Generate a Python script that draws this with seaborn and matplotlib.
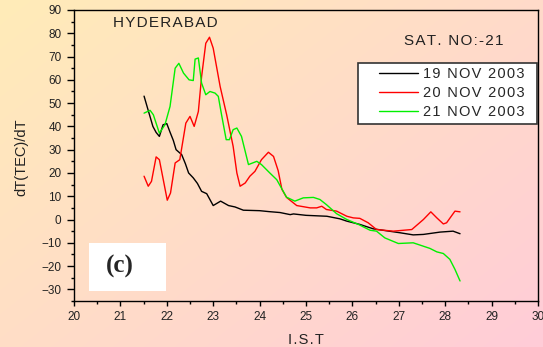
import numpy as np
import pandas as pd
import matplotlib
matplotlib.use("Agg")
import matplotlib.pyplot as plt
from matplotlib.ticker import MultipleLocator
from matplotlib.patches import Rectangle
from matplotlib.legend_handler import HandlerLine2D
import seaborn as sns

# Rate of change of TEC versus Indian Standard Time, three nights
ist_19 = [21.51, 21.70, 21.77, 21.84, 21.92, 22.00, 22.07, 22.14, 22.20, 22.32,
          22.40, 22.47, 22.57, 22.66, 22.75, 22.86, 23.00, 23.16, 23.33, 23.47,
          23.65, 24.00, 24.20, 24.44, 24.66, 24.73, 25.00, 25.45, 25.73, 25.88,
          26.16, 26.45, 27.03, 27.31, 27.53, 27.89, 28.17, 28.32]
dtec_19 = [53.0, 40.0, 37.4, 35.7, 40.7, 41.2, 37.5, 34.0, 30.0, 27.9,
           24.0, 20.0, 17.9, 15.5, 12.1, 11.1, 6.0, 7.9, 6.0, 5.4,
           4.0, 3.8, 3.4, 3.0, 2.1, 2.4, 1.8, 1.4, 0.3, -0.7,
           -2.1, -4.0, -5.7, -6.6, -6.4, -5.4, -5.0, -6.1]

ist_20 = [21.51, 21.60, 21.67, 21.77, 21.84, 22.01, 22.08, 22.18, 22.28, 22.41,
          22.50, 22.59, 22.68, 22.75, 22.84, 22.92, 23.00, 23.15, 23.29, 23.43,
          23.51, 23.58, 23.69, 23.79, 23.90, 24.04, 24.19, 24.30, 24.40, 24.48,
          24.58, 24.80, 25.09, 25.23, 25.34, 25.44, 25.66, 25.88, 26.02, 26.16,
          26.34, 26.52, 26.88, 27.28, 27.53, 27.69, 27.82, 27.96, 28.03, 28.21,
          28.32]
dtec_20 = [18.6, 14.3, 16.4, 26.9, 25.7, 8.3, 11.4, 24.3, 25.7, 41.4,
           44.3, 40.0, 46.4, 61.4, 75.7, 78.3, 73.6, 57.1, 45.0, 31.4,
           20.0, 14.3, 15.7, 18.6, 20.7, 25.7, 28.9, 27.1, 21.0, 13.0,
           9.5, 6.0, 5.0, 5.0, 5.7, 4.3, 3.6, 1.4, 0.7, 0.5,
           -1.4, -4.3, -5.0, -4.3, 0.0, 3.3, 0.7, -1.9, -1.4, 3.6,
           3.3]

ist_21 = [21.51, 21.64, 21.71, 21.84, 21.96, 22.07, 22.18, 22.26, 22.36, 22.48,
          22.57, 22.61, 22.68, 22.75, 22.84, 22.93, 23.04, 23.11, 23.18, 23.28,
          23.35, 23.43, 23.51, 23.61, 23.76, 23.94, 24.04, 24.22, 24.37, 24.58,
          24.76, 24.94, 25.16, 25.30, 25.44, 25.66, 25.88, 26.13, 26.38, 26.52,
          26.70, 26.99, 27.31, 27.67, 27.82, 27.96, 28.10, 28.21, 28.32]
dtec_21 = [45.7, 46.9, 45.0, 37.1, 40.7, 48.6, 65.0, 67.1, 62.9, 60.0,
           59.7, 68.9, 69.4, 58.6, 53.6, 55.0, 54.3, 52.9, 45.0, 34.3,
           34.3, 38.6, 39.3, 35.7, 23.6, 25.0, 23.6, 20.0, 17.1, 9.6,
           7.9, 9.3, 9.5, 8.6, 6.4, 2.5, 0.0, -2.1, -4.6, -5.0,
           -7.9, -10.3, -10.0, -12.4, -13.9, -14.6, -17.1, -21.4, -26.4]

dates = ["19 NOV 2003", "20 NOV 2003", "21 NOV 2003"]
colors = ["#000000", "#ff0000", "#00f000"]


def spaced(s):
    """Open up the tracking a little with hair spaces."""
    return "\u200a".join(s)


frames = []
for d, xs, ys in zip(dates, [ist_19, ist_20, ist_21], [dtec_19, dtec_20, dtec_21]):
    frames.append(pd.DataFrame({"IST": xs, "dTEC": ys, "date": d}))
df = pd.concat(frames, ignore_index=True)

sns.set_theme(style="white")
plt.rcParams["font.family"] = ["Liberation Sans", "DejaVu Sans"]

fig = plt.figure(figsize=(5.43, 3.47), dpi=100)

# diagonal cream-to-pink backdrop
bg = fig.add_axes([0, 0, 1, 1], zorder=0)
h, w = 347, 543
yy, xx = np.mgrid[0:h, 0:w]
t = (xx / w * 0.55 + yy / h * 0.45)
c0 = np.array([255, 236, 184]) / 255.0
c1 = np.array([255, 204, 216]) / 255.0
img = c0[None, None, :] * (1 - t[..., None]) + c1[None, None, :] * t[..., None]
bg.imshow(img, aspect="auto", extent=[0, 1, 0, 1], origin="upper")
bg.axis("off")

ax = fig.add_axes([74 / 543, 1 - 301 / 347, (538 - 74) / 543, (301 - 10) / 347], zorder=1)
ax.patch.set_alpha(0)

sns.lineplot(data=df, x="IST", y="dTEC", hue="date", hue_order=dates,
             palette=colors, sort=False, estimator=None, lw=1.0, ax=ax)

ax.set_xlim(20, 30)
ax.set_ylim(-35, 90)
ax.xaxis.set_major_locator(MultipleLocator(1))
ax.xaxis.set_minor_locator(MultipleLocator(0.5))
ax.yaxis.set_major_locator(MultipleLocator(10))
ax.yaxis.set_minor_locator(MultipleLocator(5))
ax.tick_params(axis="y", which="major", direction="out", length=5, width=1,
               color="black", labelsize=8.5, labelcolor="#222222", pad=4)
ax.tick_params(axis="y", which="minor", direction="out", length=2.4, width=1,
               color="black")
ax.tick_params(axis="x", which="major", direction="out", length=3.6, width=1,
               color="black", labelsize=8.5, labelcolor="#222222", pad=3.5)
ax.tick_params(axis="x", which="minor", direction="out", length=2, width=1,
               color="black")
ax.tick_params(axis="both", which="both", bottom=True, left=True, top=False, right=False)
for s in ax.spines.values():
    s.set_color("black")
    s.set_linewidth(1.0)

ax.set_xlabel(spaced("I.S.T"), fontsize=10.5, color="#222222")
ax.set_ylabel("dT(TEC)/dT", fontsize=10.5, color="#222222")
ax.xaxis.set_label_coords(0.5, -0.11)
ax.yaxis.set_label_coords(-0.098, 0.495)

ax.text(0.085, 0.955, spaced("HYDERABAD"), transform=ax.transAxes, fontsize=11,
        ha="left", va="center", color="#222222")
ax.text(0.712, 0.895, spaced("SAT. NO:-21"), transform=ax.transAxes, fontsize=11,
        ha="left", va="center", color="#222222")

# white panel label box
ax.add_patch(Rectangle((0.0317, 0.034), 0.166, 0.165, transform=ax.transAxes,
                       facecolor="white", edgecolor="none", zorder=3))
ax.text(0.098, 0.117, "(c)", transform=ax.transAxes, fontsize=18, fontweight="bold",
        family="Liberation Serif", ha="center", va="center", zorder=4)


class OffsetLine(HandlerLine2D):
    """Legend line that starts part-way into the handle box."""

    def get_xdata(self, legend, xdescent, ydescent, width, height, fontsize):
        x0 = -xdescent + width * 0.3
        x1 = -xdescent + width
        return np.array([x0, x1]), np.array([(x0 + x1) / 2])


handles, labels = ax.get_legend_handles_labels()
leg = ax.legend(handles, [spaced(l) + "  " for l in labels],
                loc="upper right", bbox_to_anchor=(0.9985, 0.8195),
                fontsize=10.5, frameon=True, fancybox=False, shadow=False,
                handlelength=3.75, handletextpad=0.35, borderpad=0.32,
                labelspacing=0.34, borderaxespad=0, framealpha=1,
                handler_map={h: OffsetLine() for h in handles})
leg.get_frame().set_edgecolor("#333333")
leg.get_frame().set_linewidth(1.2)
for line in leg.get_lines():
    line.set_linewidth(1.0)

fig.savefig("out.png", dpi=100)
